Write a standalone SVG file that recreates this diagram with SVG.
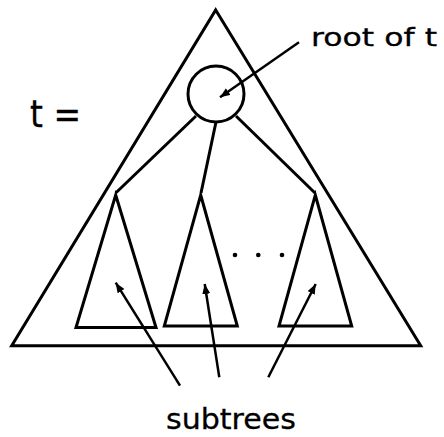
<svg xmlns="http://www.w3.org/2000/svg" width="444" height="437" viewBox="0 0 444 437">
<style>
.s{fill:none;stroke:#000;stroke-width:3;stroke-linejoin:miter}
.a{fill:none;stroke:#000;stroke-width:2.5;marker-end:url(#ah)}
.t{font-family:"DejaVu Sans","Liberation Sans",sans-serif;fill:#000;stroke:#000;stroke-width:0.3}
</style>
<defs>
<marker id="ah" markerUnits="userSpaceOnUse" markerWidth="12" markerHeight="10" refX="10" refY="4" orient="auto">
<path d="M0,0 L10,4 L0,8 z" fill="#000"/>
</marker>
</defs>
<rect width="444" height="437" fill="#fff"/>
<g id="tree">
<polygon class="s" points="215.7,10 420.7,345.7 11.7,345.7"/>
</g>
<g id="root">
<circle class="s" cx="216" cy="94" r="28"/>
</g>
<g id="subtree1">
<polygon class="s" points="115.7,195 156,327.5 76,327.5"/>
</g>
<g id="subtree2">
<polygon class="s" points="200.7,195 237.3,326 164.3,326"/>
</g>
<g id="subtree3">
<polygon class="s" points="315.3,195 351.7,326 279,326"/>
</g>
<g id="dots">
<circle cx="235" cy="255" r="2.3"/>
<circle cx="258.3" cy="255" r="2.3"/>
<circle cx="282" cy="255" r="2.3"/>
</g>
<g id="connectors">
<line class="s" x1="196" y1="116" x2="115.7" y2="193"/>
<line class="s" x1="216" y1="122" x2="201" y2="193"/>
<line class="s" x1="236" y1="116" x2="315" y2="193"/>
<line class="a" x1="299" y1="42.3" x2="220" y2="97.3"/>
<line class="a" x1="180" y1="385.7" x2="115.7" y2="282.7"/>
<line class="a" x1="219.3" y1="377.3" x2="204.7" y2="284"/>
<line class="a" x1="268.3" y1="377.3" x2="315.7" y2="284"/>
</g>
<g id="labels">
<text class="t" x="311" y="46" font-size="25" textLength="126" lengthAdjust="spacingAndGlyphs">root of t</text>
<text class="t" x="30" y="127" font-size="37" textLength="51" lengthAdjust="spacingAndGlyphs">t =</text>
<text class="t" x="166" y="429" font-size="28" textLength="130" lengthAdjust="spacingAndGlyphs">subtrees</text>
</g>
</svg>
